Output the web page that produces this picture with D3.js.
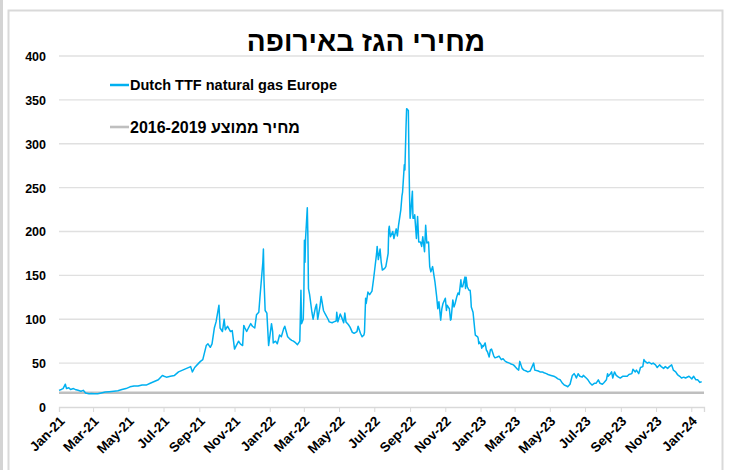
<!DOCTYPE html>
<html>
<head>
<meta charset="utf-8">
<script src="https://cdn.jsdelivr.net/npm/d3@7"></script>
<style>
  body { margin: 0; background: #fff; }
  svg text { font-family: "Liberation Sans", Arial, sans-serif; font-weight: bold; fill: #000; }
</style>
</head>
<body>
<svg width="729" height="470"></svg>
<script>
const title = "מחירי הגז באירופה";
const seriesName = "Dutch TTF natural gas Europe";
const avgName = "מחיר ממוצע 2016-2019";
const avgPrice = 16.3;
const yTicks = [0, 50, 100, 150, 200, 250, 300, 350, 400];
const xTicks = ["2021-01-01", "2021-03-01", "2021-05-01", "2021-07-01", "2021-09-01", "2021-11-01",
  "2022-01-01", "2022-03-01", "2022-05-01", "2022-07-01", "2022-09-01", "2022-11-01",
  "2023-01-01", "2023-03-01", "2023-05-01", "2023-07-01", "2023-09-01", "2023-11-01", "2024-01-01"];
const xStart = "2021-01-01", xEnd = "2024-01-23";

// TTF front month, EUR/MWh
const ttf2021 = [
  ["2021-01-01",19],["2021-01-05",20],["2021-01-08",21],["2021-01-12",26],["2021-01-14",21],["2021-01-18",22],
  ["2021-01-21",20],["2021-01-26",21],["2021-01-29",20],["2021-02-03",19],["2021-02-08",18],["2021-02-12",19],
  ["2021-02-16",16],["2021-02-22",15],["2021-02-26",15.5],["2021-03-03",15],["2021-03-09",15],["2021-03-15",16],
  ["2021-03-22",17],["2021-03-29",17.5],["2021-04-06",18],["2021-04-13",18.5],["2021-04-20",20],["2021-04-27",21],
  ["2021-05-04",23],["2021-05-11",24],["2021-05-18",24],["2021-05-25",25],["2021-06-01",25],["2021-06-08",27],
  ["2021-06-15",29],["2021-06-22",31],["2021-06-29",36],["2021-07-02",35],["2021-07-06",34],["2021-07-13",35],
  ["2021-07-20",36],["2021-07-27",40],["2021-08-03",42],["2021-08-10",44],["2021-08-17",46],["2021-08-20",40],
  ["2021-08-24",45],["2021-08-31",50],["2021-09-03",52],["2021-09-07",54],["2021-09-10",62],["2021-09-13",70],
  ["2021-09-16",72],["2021-09-20",68],["2021-09-23",72],["2021-09-27",90],["2021-09-30",97],["2021-10-05",116],
  ["2021-10-07",90],["2021-10-11",86],["2021-10-14",100],["2021-10-16",88],["2021-10-20",92],["2021-10-25",86],
  ["2021-10-28",87],["2021-11-01",66],["2021-11-04",70],["2021-11-08",75],["2021-11-11",72],["2021-11-15",70],
  ["2021-11-17",93],["2021-11-19",90],["2021-11-22",86],["2021-11-25",90],["2021-11-29",95],["2021-12-02",92],
  ["2021-12-06",90],["2021-12-09",105],["2021-12-13",108],["2021-12-15",125],["2021-12-17",141],["2021-12-20",165],
  ["2021-12-21",180],["2021-12-22",145],["2021-12-24",110],["2021-12-27",107],["2021-12-30",70]
];
const ttf2022 = [
  ["2022-01-04",95],["2022-01-06",86],["2022-01-07",73],["2022-01-11",75],["2022-01-14",72],["2022-01-18",82],
  ["2022-01-21",80],["2022-01-25",89],["2022-01-27",92],["2022-02-01",80],["2022-02-04",78],["2022-02-08",76],
  ["2022-02-11",75],["2022-02-15",73],["2022-02-18",71],["2022-02-22",75],["2022-02-24",133],["2022-02-25",95],
  ["2022-02-28",100],["2022-03-01",125],["2022-03-02",190],["2022-03-03",165],["2022-03-04",192],["2022-03-07",227],
  ["2022-03-08",195],["2022-03-09",135],["2022-03-11",128],["2022-03-15",108],["2022-03-17",100],["2022-03-21",113],
  ["2022-03-23",117],["2022-03-25",100],["2022-03-29",115],["2022-03-31",126],["2022-04-04",110],["2022-04-07",106],
  ["2022-04-12",100],["2022-04-14",97],["2022-04-19",96],["2022-04-22",97],["2022-04-26",98],["2022-04-27",108],
  ["2022-04-29",97],["2022-05-03",106],["2022-05-05",103],["2022-05-09",96],["2022-05-11",107],["2022-05-13",97],
  ["2022-05-17",94],["2022-05-20",91],["2022-05-24",85],["2022-05-27",84],["2022-06-01",86],["2022-06-03",92],
  ["2022-06-07",84],["2022-06-10",80],["2022-06-13",82],["2022-06-14",85],["2022-06-16",124],["2022-06-17",118],
  ["2022-06-20",131],["2022-06-23",128],["2022-06-27",132],["2022-06-30",147],["2022-07-05",175],["2022-07-06",183],
  ["2022-07-08",168],["2022-07-11",180],["2022-07-13",165],["2022-07-15",156],["2022-07-19",158],["2022-07-21",160],
  ["2022-07-25",175],["2022-07-26",202],["2022-07-27",206],["2022-07-29",194],["2022-08-02",200],["2022-08-04",192],
  ["2022-08-08",203],["2022-08-10",195],["2022-08-12",207],["2022-08-16",225],["2022-08-18",241],["2022-08-19",245],
  ["2022-08-22",276],["2022-08-23",270],["2022-08-25",320],["2022-08-26",340],["2022-08-29",338],["2022-08-30",285],
  ["2022-08-31",243],["2022-09-01",215],["2022-09-02",220],["2022-09-05",246],["2022-09-06",215],["2022-09-08",215],
  ["2022-09-09",219],["2022-09-12",192],["2022-09-14",217],["2022-09-16",188],["2022-09-19",188],["2022-09-21",183],
  ["2022-09-23",194],["2022-09-26",177],["2022-09-28",207],["2022-09-30",187],["2022-10-03",188],["2022-10-05",160],
  ["2022-10-07",154],["2022-10-10",160],["2022-10-14",143],["2022-10-17",126],["2022-10-19",112],["2022-10-21",120],
  ["2022-10-24",99],["2022-10-26",112],["2022-10-28",118],["2022-11-01",124],["2022-11-03",110],["2022-11-04",116],
  ["2022-11-08",112],["2022-11-10",99],["2022-11-11",100],["2022-11-14",122],["2022-11-16",114],["2022-11-18",118],
  ["2022-11-21",126],["2022-11-23",130],["2022-11-25",128],["2022-11-28",145],["2022-11-29",137],["2022-12-01",137],
  ["2022-12-05",148],["2022-12-06",135],["2022-12-07",148],["2022-12-09",137],["2022-12-12",133],["2022-12-14",133],
  ["2022-12-15",126],["2022-12-16",114],["2022-12-19",108],["2022-12-21",95],["2022-12-22",88],["2022-12-23",82],
  ["2022-12-27",80],["2022-12-28",78],["2022-12-29",72],["2022-12-30",74]
];
const ttf2023 = [
  ["2023-01-02",71],["2023-01-03",67],["2023-01-05",70],["2023-01-06",69],["2023-01-09",73],["2023-01-11",65],
  ["2023-01-13",63],["2023-01-16",57],["2023-01-18",65],["2023-01-20",66],["2023-01-24",58],["2023-01-26",56],
  ["2023-01-30",57],["2023-02-02",58],["2023-02-06",54],["2023-02-09",55],["2023-02-13",52],["2023-02-16",51],
  ["2023-02-20",50],["2023-02-23",49],["2023-02-27",48],["2023-03-02",46],["2023-03-06",43],["2023-03-08",42],
  ["2023-03-10",52],["2023-03-14",44],["2023-03-17",42],["2023-03-21",41],["2023-03-24",40],["2023-03-28",41],
  ["2023-04-03",50],["2023-04-05",42],["2023-04-11",41],["2023-04-14",40],["2023-04-18",40],["2023-04-21",39],
  ["2023-04-25",38],["2023-04-28",37],["2023-05-03",36],["2023-05-08",35],["2023-05-11",34],["2023-05-15",32],
  ["2023-05-19",31],["2023-05-23",27],["2023-05-26",25],["2023-05-30",24],["2023-06-01",23],["2023-06-05",26],
  ["2023-06-07",31],["2023-06-09",36],["2023-06-12",38],["2023-06-14",36],["2023-06-16",33],["2023-06-19",38],
  ["2023-06-22",35],["2023-06-26",34],["2023-06-28",36],["2023-07-03",33],["2023-07-06",31],["2023-07-10",27],
  ["2023-07-13",25],["2023-07-17",27],["2023-07-20",27],["2023-07-24",31],["2023-07-27",27],["2023-07-31",26],
  ["2023-08-03",28],["2023-08-07",31],["2023-08-09",38],["2023-08-10",35],["2023-08-14",38],["2023-08-16",40],
  ["2023-08-18",33],["2023-08-21",40],["2023-08-24",36],["2023-08-28",34],["2023-08-31",33],["2023-09-04",35],
  ["2023-09-08",35],["2023-09-12",35],["2023-09-15",37],["2023-09-20",38],["2023-09-22",43],["2023-09-26",40],
  ["2023-09-28",42],["2023-10-02",38],["2023-10-05",45],["2023-10-09",46],["2023-10-11",54],["2023-10-13",52],
  ["2023-10-17",50],["2023-10-20",51],["2023-10-24",49],["2023-10-27",50],["2023-10-31",48],["2023-11-03",45],
  ["2023-11-07",48],["2023-11-10",46],["2023-11-14",44],["2023-11-17",46],["2023-11-21",44],["2023-11-24",46],
  ["2023-11-28",48],["2023-12-01",42],["2023-12-05",40],["2023-12-08",37],["2023-12-12",35],["2023-12-15",33],
  ["2023-12-19",34],["2023-12-22",33],["2023-12-28",35]
];
const ttf2024 = [
  ["2024-01-02",32],["2024-01-05",35],["2024-01-09",31],["2024-01-12",31],["2024-01-16",28],["2024-01-19",29]
];

const parse = d3.timeParse("%Y-%m-%d");
const series = ttf2021.concat(ttf2022, ttf2023, ttf2024).map(d => ({ date: parse(d[0]), value: d[1] }));

const svg = d3.select("svg");

// frame
svg.append("rect").attr("x", 0).attr("y", 0).attr("width", 729).attr("height", 470).attr("fill", "#fff");
svg.append("line").attr("x1", 1.5).attr("x2", 1.5).attr("y1", 0).attr("y2", 470)
  .attr("stroke", "#d4d4d4").attr("stroke-width", 3);
svg.append("rect").attr("x", 8.5).attr("y", 10.5).attr("width", 714).attr("height", 480)
  .attr("fill", "none").attr("stroke", "#d9d9d9").attr("stroke-width", 2);

const x = d3.scaleTime().domain([parse(xStart), parse(xEnd)]).range([59, 704]);
const y = d3.scaleLinear().domain([0, 400]).range([407, 56]);

// gridlines
svg.append("g")
  .selectAll("line")
  .data(yTicks.filter(d => d > 0))
  .enter()
  .append("line")
  .attr("x1", x.range()[0])
  .attr("x2", x.range()[1])
  .attr("y1", d => y(d))
  .attr("y2", d => y(d))
  .attr("stroke", "#e0e0e0")
  .attr("stroke-width", 1.3);

// y axis labels
const yAxis = svg.append("g")
  .attr("transform", "translate(" + x.range()[0] + ",0)")
  .call(d3.axisLeft(y).tickValues(yTicks).tickSize(0).tickPadding(13));
yAxis.select(".domain").remove();
yAxis.selectAll("text").style("font-size", "12.5px").attr("dy", "0.35em");

// x axis
const xAxis = svg.append("g")
  .attr("transform", "translate(0," + y(0) + ")")
  .call(d3.axisBottom(x).tickValues(xTicks.map(parse)).tickSize(5).tickFormat(d3.timeFormat("%b-%y")));
xAxis.select(".domain").attr("stroke", "#d9d9d9").attr("stroke-width", 1.3);
xAxis.selectAll(".tick line").attr("stroke", "#d9d9d9");
xAxis.selectAll("text")
  .style("font-size", "13.5px")
  .attr("text-anchor", "end")
  .attr("x", 0).attr("y", 0).attr("dy", 0)
  .attr("transform", "translate(6,15) rotate(-45)");

// average 2016-2019
svg.append("line")
  .attr("x1", x.range()[0]).attr("x2", x.range()[1])
  .attr("y1", y(avgPrice)).attr("y2", y(avgPrice))
  .attr("stroke", "#bfbfbf").attr("stroke-width", 2.6);

// TTF line
svg.append("path")
  .datum(series)
  .attr("fill", "none")
  .attr("stroke", "#00b0f0")
  .attr("stroke-width", 1.5)
  .attr("stroke-linejoin", "round")
  .attr("d", d3.line().x(d => x(d.date)).y(d => y(d.value)));

// title
svg.append("text")
  .attr("x", 366).attr("y", 51)
  .attr("text-anchor", "middle")
  .style("font-size", "28px")
  .text(title);

// legend
const legend = svg.append("g");
legend.append("line").attr("x1", 110).attr("x2", 129).attr("y1", 85).attr("y2", 85)
  .attr("stroke", "#00b0f0").attr("stroke-width", 2.5);
legend.append("text").attr("x", 130).attr("y", 85).attr("dy", "0.35em")
  .style("font-size", "14.5px").text(seriesName);
legend.append("line").attr("x1", 110).attr("x2", 129).attr("y1", 127).attr("y2", 127)
  .attr("stroke", "#bfbfbf").attr("stroke-width", 2.6);
legend.append("text").attr("x", 130).attr("y", 127).attr("dy", "0.35em")
  .style("font-size", "16px").text(avgName);
</script>
</body>
</html>
